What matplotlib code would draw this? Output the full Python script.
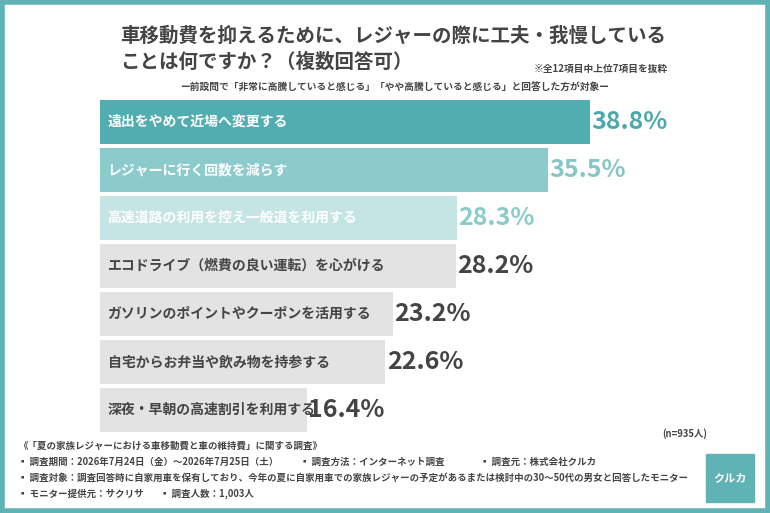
import matplotlib.pyplot as plt
import numpy as np
from matplotlib.patches import Rectangle

plt.rcParams['font.family'] = ['Noto Sans CJK JP', 'DejaVu Sans']

labels = ["遠出をやめて近場へ変更する", "レジャーに行く回数を減らす", "高速道路の利用を控え一般道を利用する",
          "エコドライブ（燃費の良い運転）を心がける", "ガソリンのポイントやクーポンを活用する",
          "自宅からお弁当や飲み物を持参する", "深夜・早朝の高速割引を利用する"]
values = [38.8, 35.5, 28.3, 28.2, 23.2, 22.6, 16.4]

bar_colors = ["#52adb0", "#8ccbcb", "#c5e5e5", "#e3e3e3", "#e3e3e3", "#e3e3e3", "#e3e3e3"]
label_colors = ["white", "white", "white", "#444444", "#444444", "#444444", "#444444"]
value_colors = ["#4ea9ad", "#86c6c7", "#8ccbcb", "#444444", "#444444", "#444444", "#444444"]

W, H = 770, 513
fig = plt.figure(figsize=(W / 100, H / 100), dpi=100)
fig.patch.set_facecolor("white")

# teal frame
frame = fig.add_axes([0, 0, 1, 1])
frame.set_xlim(0, W); frame.set_ylim(H, 0); frame.axis("off")
frame.add_patch(Rectangle((2, 2), W - 4, H - 4, fill=False, edgecolor="#5fb3b5", lw=4))

fig.text(120 / W, 1 - 36 / H, "車移動費を抑えるために、レジャーの際に工夫・我慢している",
         fontsize=14, fontweight="bold", color="#444444", va="center")
fig.text(120 / W, 1 - 62 / H, "ことは何ですか？（複数回答可）",
         fontsize=14, fontweight="bold", color="#444444", va="center")
fig.text(668 / W, 1 - 69 / H, "※全12項目中上位7項目を抜粋", fontsize=7, fontweight="bold",
         color="#444444", ha="right", va="center")
fig.text(395 / W, 1 - 87 / H, "ー前設問で「非常に高騰していると感じる」「やや高騰していると感じる」と回答した方が対象ー",
         fontsize=7, fontweight="bold", color="#444444", ha="center", va="center")

ax = fig.add_axes([100 / W, 1 - 434 / H, 505 / W, 336 / H])
y = np.arange(len(values))
ax.barh(y, values, height=0.9, color=bar_colors)
ax.set_xlim(0, 40)
ax.set_ylim(len(values) - 0.5, -0.5)
ax.axis("off")
for i, (lab, v) in enumerate(zip(labels, values)):
    ax.text(0.6, i, lab, color=label_colors[i], fontsize=10, fontweight="bold", va="center")
    ax.text(v + 0.1, i, f"{v}%", color=value_colors[i], fontsize=18, fontweight="bold",
            va="center", ha="left")

fs = 6.8
c = "#444444"
fig.text(662 / W, 1 - 437 / H, "(n=935人)", fontsize=fs, color=c, fontweight="bold")
fig.text(18 / W, 1 - 446 / H, "《「夏の家族レジャーにおける車移動費と車の維持費」に関する調査》", fontsize=fs, color=c, fontweight="bold", va="center")
fig.text(18 / W, 1 - 462 / H, "▪ 調査期間：2026年7月24日（金）～2026年7月25日（土）", fontsize=fs, color=c, fontweight="bold", va="center")
fig.text(300 / W, 1 - 462 / H, "▪ 調査方法：インターネット調査", fontsize=fs, color=c, fontweight="bold", va="center")
fig.text(480 / W, 1 - 462 / H, "▪ 調査元：株式会社クルカ", fontsize=fs, color=c, fontweight="bold", va="center")
fig.text(18 / W, 1 - 478 / H, "▪ 調査対象：調査回答時に自家用車を保有しており、今年の夏に自家用車での家族レジャーの予定があるまたは検討中の30～50代の男女と回答したモニター",
         fontsize=fs, color=c, fontweight="bold", va="center")
fig.text(18 / W, 1 - 494 / H, "▪ モニター提供元：サクリサ", fontsize=fs, color=c, fontweight="bold", va="center")
fig.text(160 / W, 1 - 494 / H, "▪ 調査人数：1,003人", fontsize=fs, color=c, fontweight="bold", va="center")

frame.add_patch(Rectangle((706, 454), 48, 48, color="#5fb3b5"))
frame.text(730, 478, "クルカ", color="white", fontsize=8, fontweight="bold", ha="center", va="center", style="italic")

fig.savefig("out.png", dpi=100)
